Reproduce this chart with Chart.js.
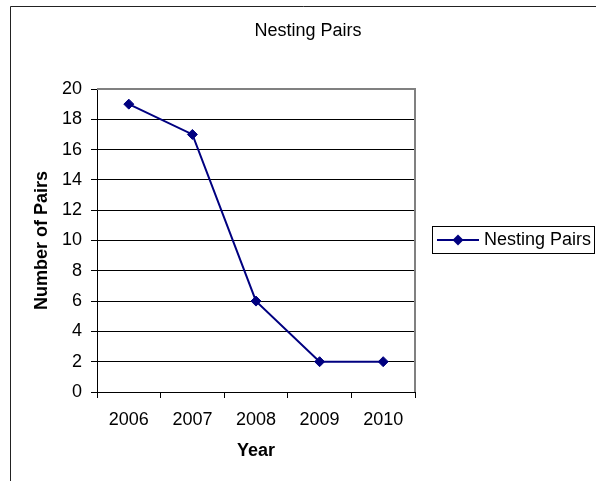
<!DOCTYPE html>
<html>
<head>
<meta charset="utf-8">
<title>Nesting Pairs</title>
<script src="https://cdn.jsdelivr.net/npm/chart.js@4/dist/chart.umd.min.js"></script>
<style>
  html, body { margin: 0; padding: 0; background: #ffffff; }
  #wrap { width: 596px; height: 481px; }
</style>
</head>
<body>
<div id="wrap"><canvas id="c" width="596" height="481"></canvas></div>
<script>
// Nesting pairs counted each year
const years = ['2006', '2007', '2008', '2009', '2010'];
const nestingPairs = [19, 17, 6, 2, 2];

// Text
const chartTitle = 'Nesting Pairs';
const seriesName = 'Nesting Pairs';
const xAxisTitle = 'Year';
const yAxisTitle = 'Number of Pairs';

// Value axis range
const yMin = 0;
const yMax = 20;
const yStep = 2;

const FONT = "'Liberation Sans', Arial, Helvetica, sans-serif";
const NAVY = '#000080';

Chart.defaults.font.family = FONT;
Chart.defaults.font.size = 18;
Chart.defaults.color = '#000000';

// Frame, title, plot-area border and boxed legend
const decorations = {
  id: 'decorations',
  afterDraw(chart) {
    const ctx = chart.ctx;
    const a = chart.chartArea;
    ctx.save();

    // outer chart frame
    ctx.strokeStyle = '#222222';
    ctx.lineWidth = 1;
    ctx.beginPath();
    ctx.moveTo(10.5, 481);
    ctx.lineTo(10.5, 6.5);
    ctx.lineTo(596, 6.5);
    ctx.stroke();

    // plot area border (top and right edges are grey)
    ctx.strokeStyle = '#808080';
    ctx.lineWidth = 2;
    ctx.beginPath();
    ctx.moveTo(a.left, a.top);
    ctx.lineTo(a.right, a.top);
    ctx.lineTo(a.right, a.bottom);
    ctx.stroke();

    // chart title
    ctx.fillStyle = '#000000';
    ctx.font = '18px ' + FONT;
    ctx.textAlign = 'center';
    ctx.textBaseline = 'middle';
    ctx.fillText(chartTitle, 308, 31);

    // legend box
    const lx = 432.5, ly = 226.5, lw = 162, lh = 27;
    const cy = ly + lh / 2;
    ctx.strokeStyle = '#000000';
    ctx.lineWidth = 1;
    ctx.strokeRect(lx, ly, lw, lh);

    ctx.strokeStyle = NAVY;
    ctx.lineWidth = 2;
    ctx.beginPath();
    ctx.moveTo(437, cy);
    ctx.lineTo(479, cy);
    ctx.stroke();
    ctx.fillStyle = NAVY;
    Chart.helpers.drawPoint(ctx, { pointStyle: 'rectRot', radius: 5.5, rotation: 0, borderWidth: 0 }, 458, cy);

    ctx.fillStyle = '#000000';
    ctx.textAlign = 'left';
    ctx.textBaseline = 'middle';
    ctx.fillText(seriesName, 484, cy);

    ctx.restore();
  }
};

new Chart(document.getElementById('c'), {
  type: 'line',
  data: {
    labels: years,
    datasets: [{
      label: seriesName,
      data: nestingPairs,
      borderColor: NAVY,
      backgroundColor: NAVY,
      borderWidth: 2,
      tension: 0,
      fill: false,
      pointStyle: 'rectRot',
      pointRadius: 5,
      pointBorderWidth: 1,
      pointBorderColor: NAVY,
      pointBackgroundColor: NAVY
    }]
  },
  options: {
    responsive: false,
    animation: false,
    layout: { padding: { top: 89, right: 181, bottom: 0, left: 0 } },
    plugins: {
      legend: { display: false },
      title: { display: false },
      tooltip: { enabled: false }
    },
    scales: {
      x: {
        type: 'category',
        offset: true,
        afterFit(scale) { scale.height = 89; },
        grid: {
          display: true,
          offset: true,
          drawOnChartArea: false,
          drawTicks: true,
          tickLength: 6,
          color: '#000000'
        },
        border: { display: true, color: '#000000', width: 1 },
        ticks: { padding: 11, color: '#000000', font: { size: 18 } },
        title: {
          display: true,
          text: xAxisTitle,
          color: '#000000',
          font: { size: 18, weight: 'bold' },
          padding: { top: 0, bottom: 19 }
        }
      },
      y: {
        min: yMin,
        max: yMax,
        afterFit(scale) { scale.width = 97; },
        grid: {
          color: '#000000',
          lineWidth: 1,
          drawTicks: true,
          tickLength: 6,
          tickColor: '#000000'
        },
        border: { display: true, color: '#000000', width: 1 },
        ticks: {
          stepSize: yStep,
          padding: 9,
          color: '#000000',
          font: { size: 18 }
        },
        title: {
          display: true,
          text: yAxisTitle,
          color: '#000000',
          font: { size: 18, weight: 'bold' },
          padding: { top: 31, bottom: 0 }
        }
      }
    }
  },
  plugins: [decorations]
});
</script>
</body>
</html>
